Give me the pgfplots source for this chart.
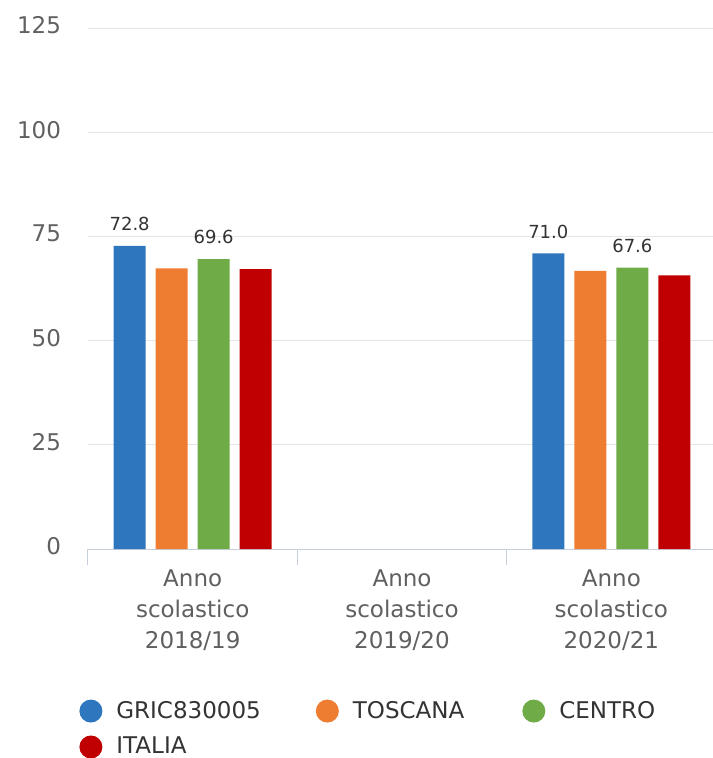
\documentclass[border=0pt]{standalone}
\usepackage{fontspec}
\setmainfont{DejaVu Sans}
\usepackage{pgfplots}
\pgfplotsset{compat=1.18}
\definecolor{cBlue}{HTML}{2E77BF}
\definecolor{cOrange}{HTML}{EE7D31}
\definecolor{cGreen}{HTML}{6FAB47}
\definecolor{cRed}{HTML}{C00000}
\definecolor{cTick}{HTML}{606060}
\definecolor{cLab}{HTML}{333333}
\definecolor{cAxis}{HTML}{C8CFDC}
\definecolor{cGrid}{HTML}{E6E6E6}
\pgfplotsset{
  mybar/.style={fill=#1, draw=none,
    legend image code/.code={\fill[#1] (5.75pt,0pt) circle (5.75pt); \path (16.5pt,0pt);}},
}
\begin{document}
\begin{tikzpicture}
\begin{axis}[
  at={(0,0)}, anchor=south west,
  scale only axis, width=314pt, height=260.2pt,
  xmin=-0.5, xmax=2.5, ymin=0, ymax=125,
  ytick={0,25,50,75,100,125},
  xtick={0,1,2},
  xticklabels={{Anno\\scolastico\\2018/19},{Anno\\scolastico\\2019/20},{Anno\\scolastico\\2020/21}},
  xticklabel style={align=center, font=\fontsize{11.5}{15.5}\selectfont, text=cTick, yshift=-7pt},
  minor xtick={-0.5,0.5,1.5,2.5},
  major tick length=0pt,
  minor tick length=8pt,
  tick align=outside,
  minor tick style={draw=cAxis, line width=0.5pt},
  axis x line*=bottom, axis y line*=left,
  y axis line style={draw=none},
  x axis line style={draw=cAxis, line width=0.5pt},
  ymajorgrids, grid style={draw=cGrid, line width=0.5pt},
  yticklabel style={font=\fontsize{11.5}{13}\selectfont, text=cTick, xshift=-10pt, yshift=1.5pt},
  /pgf/number format/assume math mode=true,
  ybar=5pt, bar width=16pt,
  legend style={at={(axis description cs:0,-0.276)}, anchor=north west,
    xshift=-7.5pt, draw=none, fill=none,
    font=\fontsize{11.5}{14}\selectfont, text=cLab,
    /tikz/column 2/.style={column sep=25.5pt},
    /tikz/column 4/.style={column sep=27pt},
    row sep=4pt},
  legend columns=3,
  legend cell align=left,
  nodes near coords style={font=\fontsize{9}{10}\selectfont, text=cLab, yshift=4pt},
]
\addplot[mybar=cBlue, nodes near coords={\pgfmathprintnumber[fixed,fixed zerofill,precision=1]{\pgfplotspointmeta}}]
  coordinates {(0,72.8) (2,71.0)};
\addplot[mybar=cOrange] coordinates {(0,67.4) (2,66.8)};
\addplot[mybar=cGreen, nodes near coords={\pgfmathprintnumber[fixed,fixed zerofill,precision=1]{\pgfplotspointmeta}}]
  coordinates {(0,69.6) (2,67.6)};
\addplot[mybar=cRed] coordinates {(0,67.2) (2,65.7)};
\legend{GRIC830005,TOSCANA,CENTRO,ITALIA}
\end{axis}
\pgfresetboundingbox
\path[use as bounding box] (-44pt,-104.5pt) rectangle (312pt,274.5pt);
\end{tikzpicture}
\end{document}
